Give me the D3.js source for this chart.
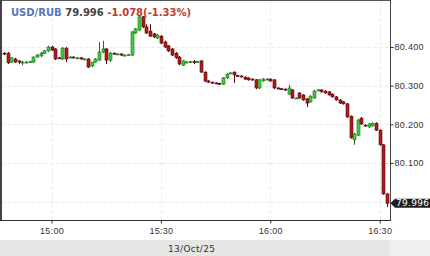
<!DOCTYPE html>
<html>
<head>
<meta charset="utf-8">
<script src="https://cdn.jsdelivr.net/npm/d3@7"></script>
<style>
  body { margin: 0; background: #fff; }
  svg { display: block; font-family: "DejaVu Sans", sans-serif; }
  .tick text { fill: #333; font-size: 9px; letter-spacing: 0.3px; }
  .tick line { stroke: #333; }
</style>
</head>
<body>
<div id="chart"></div>
<script>
// quote header
var symbol = "USD/RUB";
var lastPrice = "79.996";
var change = "-1.078(-1.33%)";
var dateLabel = "13/Oct/25";

// one candle per minute, 14:47 .. 16:32
var opens = [80.384,80.384,80.361,80.369,80.364,80.361,80.361,80.361,80.361,80.374,
  80.377,80.384,80.390,80.400,80.395,80.372,80.369,80.397,80.372,80.374,
  80.372,80.372,80.369,80.369,80.351,80.361,80.366,80.387,80.395,80.366,
  80.384,80.382,80.382,80.379,80.379,80.379,80.436,80.444,80.478,80.452,
  80.441,80.434,80.423,80.428,80.413,80.403,80.395,80.384,80.374,80.353,
  80.361,80.361,80.362,80.361,80.364,80.335,80.312,80.309,80.307,80.306,
  80.304,80.320,80.332,80.335,80.326,80.325,80.322,80.320,80.317,80.315,
  80.294,80.312,80.317,80.317,80.315,80.294,80.292,80.291,80.278,80.289,
  80.268,80.281,80.276,80.266,80.258,80.268,80.289,80.289,80.286,80.284,
  80.278,80.271,80.263,80.258,80.253,80.221,80.160,80.172,80.216,80.198,
  80.193,80.196,80.203,80.185,80.147,80.020];
var highs = [80.387,80.387,80.374,80.372,80.366,80.364,80.364,80.364,80.376,80.382,
  80.387,80.392,80.403,80.403,80.397,80.374,80.400,80.400,80.376,80.376,
  80.374,80.374,80.371,80.371,80.361,80.371,80.413,80.416,80.397,80.387,
  80.386,80.384,80.384,80.381,80.382,80.441,80.449,80.480,80.480,80.459,
  80.459,80.436,80.434,80.431,80.416,80.405,80.397,80.387,80.377,80.366,
  80.364,80.364,80.366,80.364,80.366,80.337,80.315,80.311,80.309,80.308,
  80.322,80.333,80.335,80.337,80.328,80.327,80.324,80.322,80.319,80.317,
  80.317,80.320,80.320,80.319,80.317,80.296,80.294,80.293,80.302,80.291,
  80.270,80.283,80.278,80.268,80.275,80.289,80.291,80.291,80.288,80.286,
  80.280,80.273,80.265,80.260,80.255,80.223,80.178,80.214,80.219,80.200,
  80.203,80.205,80.205,80.187,80.149,80.022];
var lows = [80.379,80.356,80.359,80.359,80.356,80.353,80.359,80.359,80.359,80.372,
  80.374,80.382,80.387,80.390,80.366,80.369,80.366,80.361,80.371,80.371,
  80.369,80.367,80.367,80.346,80.348,80.359,80.364,80.384,80.356,80.361,
  80.380,80.380,80.377,80.377,80.377,80.377,80.434,80.441,80.449,80.434,
  80.426,80.423,80.421,80.408,80.397,80.387,80.377,80.369,80.353,80.351,
  80.359,80.359,80.356,80.359,80.333,80.309,80.307,80.305,80.304,80.302,
  80.302,80.317,80.330,80.307,80.323,80.321,80.315,80.313,80.313,80.291,
  80.291,80.310,80.315,80.310,80.291,80.290,80.289,80.287,80.276,80.266,
  80.266,80.266,80.261,80.245,80.256,80.266,80.287,80.282,80.279,80.274,
  80.269,80.261,80.253,80.251,80.217,80.163,80.147,80.170,80.198,80.194,
  80.191,80.194,80.183,80.145,80.018,79.986];
var closes = [80.382,80.359,80.372,80.361,80.361,80.361,80.361,80.362,80.374,80.379,
  80.384,80.390,80.400,80.392,80.369,80.371,80.397,80.369,80.374,80.372,
  80.372,80.369,80.369,80.348,80.361,80.369,80.387,80.395,80.366,80.384,
  80.382,80.382,80.379,80.379,80.380,80.439,80.447,80.478,80.452,80.436,
  80.428,80.426,80.431,80.410,80.400,80.390,80.379,80.372,80.356,80.364,
  80.361,80.362,80.361,80.362,80.335,80.312,80.309,80.307,80.306,80.304,
  80.320,80.330,80.333,80.328,80.325,80.323,80.317,80.315,80.315,80.294,
  80.315,80.317,80.317,80.312,80.294,80.292,80.291,80.289,80.294,80.268,
  80.268,80.268,80.263,80.255,80.273,80.286,80.289,80.284,80.281,80.276,
  80.271,80.263,80.255,80.253,80.219,80.165,80.175,80.211,80.201,80.196,
  80.201,80.203,80.185,80.147,80.020,79.996];

var priceTicks = [80.1, 80.2, 80.3, 80.4];
var gridPrices = [80.0, 80.1, 80.2, 80.3, 80.4];

var width = 430, height = 256;
var plotL = 1, plotR = 390, plotT = 0, plotB = 220;

var svg = d3.select("#chart").append("svg")
    .attr("width", width)
    .attr("height", height);

var times = d3.timeMinute.range(new Date(2025, 9, 13, 14, 47), new Date(2025, 9, 13, 16, 33));
var candles = times.map(function(t, i) {
  return {t: t, o: opens[i], h: highs[i], l: lows[i], c: closes[i]};
});
var timeTicks = [new Date(2025,9,13,15,0), new Date(2025,9,13,15,30), new Date(2025,9,13,16,0), new Date(2025,9,13,16,30)];

var x = d3.scaleTime()
    .domain([new Date(2025, 9, 13, 14, 46, 9), new Date(2025, 9, 13, 16, 32, 49)])
    .range([plotL, plotR]);
var y = d3.scaleLinear()
    .domain([79.9526, 80.5215])
    .range([plotB, plotT]);

// bottom bands
svg.append("rect").attr("x", 0).attr("y", 240).attr("width", plotR).attr("height", 16).style("fill", "#e6e6e6");
svg.append("rect").attr("x", plotR).attr("y", 240).attr("width", width - plotR).attr("height", 16).style("fill", "#efefef");

// grid
svg.append("g").selectAll("line").data(gridPrices).enter().append("line")
    .attr("x1", plotL).attr("x2", plotR)
    .attr("y1", function(d) { return Math.round(y(d)) + 0.5; })
    .attr("y2", function(d) { return Math.round(y(d)) + 0.5; })
    .style("stroke", "#ebebeb").style("stroke-dasharray", "4,2");
svg.append("g").selectAll("line").data(timeTicks).enter().append("line")
    .attr("y1", plotT).attr("y2", plotB)
    .attr("x1", function(d) { return Math.round(x(d)) + 0.5; })
    .attr("x2", function(d) { return Math.round(x(d)) + 0.5; })
    .style("stroke", "#ebebeb").style("stroke-dasharray", "4,2");

// candles
var up = {fill: "#3fcc3f", edge: "#1c6e1c"};
var down = {fill: "#ae1a1a", edge: "#560808"};
var bw = 3;
var cg = svg.append("g");
cg.selectAll("line").data(candles).enter().append("line")
    .attr("x1", function(d) { return Math.round(x(d.t)) + 0.5; })
    .attr("x2", function(d) { return Math.round(x(d.t)) + 0.5; })
    .attr("y1", function(d) { return y(d.h); })
    .attr("y2", function(d) { return y(d.l); })
    .style("stroke", function(d) { return d.c >= d.o ? up.edge : down.edge; });
cg.selectAll("rect").data(candles).enter().append("rect")
    .attr("x", function(d) { return Math.round(x(d.t)) - 1; })
    .attr("width", bw)
    .attr("y", function(d) { return y(Math.max(d.o, d.c)); })
    .attr("height", function(d) { return Math.max(1, Math.abs(y(d.o) - y(d.c))); })
    .style("fill", function(d) { return d.c >= d.o ? up.fill : down.fill; })
    .style("stroke", function(d) { return d.c >= d.o ? up.edge : down.edge; })
    .style("stroke-width", 0.6);

// frame
svg.append("line").attr("x1", plotL).attr("x2", plotR).attr("y1", 0.5).attr("y2", 0.5).style("stroke", "#555");
svg.append("line").attr("x1", 1).attr("x2", 1).attr("y1", 0).attr("y2", plotB).style("stroke", "#444").style("stroke-width", 2);
svg.append("line").attr("x1", plotR + 0.5).attr("x2", plotR + 0.5).attr("y1", 0).attr("y2", plotB).style("stroke", "#444");
svg.append("line").attr("x1", 0).attr("x2", plotR + 1).attr("y1", plotB + 0.5).attr("y2", plotB + 0.5).style("stroke", "#333");

// axes
var xAxis = svg.append("g").attr("transform", "translate(0," + (plotB + 0.5) + ")")
    .call(d3.axisBottom(x).tickValues(timeTicks).tickFormat(d3.timeFormat("%H:%M")).tickSize(3).tickPadding(2));
xAxis.select(".domain").remove();
xAxis.selectAll("text").attr("dy", "0.9em");

var yAxis = svg.append("g").attr("transform", "translate(" + (plotR + 0.5) + ",0)")
    .call(d3.axisRight(y).tickValues(priceTicks).tickFormat(d3.format(".3f")).tickSize(3).tickPadding(1));
yAxis.select(".domain").remove();

svg.append("text").attr("x", 168).attr("y", 252).text(dateLabel)
    .style("font-size", "9px").style("letter-spacing", "0.3px").style("fill", "#333");

// last price marker
var ly = y(closes[closes.length - 1]);
svg.append("path")
    .attr("d", "M" + (plotR + 0.5) + "," + ly + "L395," + (ly - 4.5) + "L" + width + "," + (ly - 4.5) + "L" + width + "," + (ly + 4.5) + "L395," + (ly + 4.5) + "Z")
    .style("fill", "#1e1e1e");
svg.append("text").attr("x", 396).attr("y", ly).attr("dy", "0.35em").text(lastPrice)
    .style("font-size", "9px").style("letter-spacing", "0.3px").style("fill", "#fff");

// header
var title = svg.append("text").attr("x", 11).attr("y", 16)
    .style("font-size", "10px").style("font-weight", "bold");
title.append("tspan").text(symbol).style("fill", "#5577c0");
title.append("tspan").text(" " + lastPrice).style("fill", "#444");
title.append("tspan").text(" " + change).style("fill", "#c0392b");
</script>
</body>
</html>
